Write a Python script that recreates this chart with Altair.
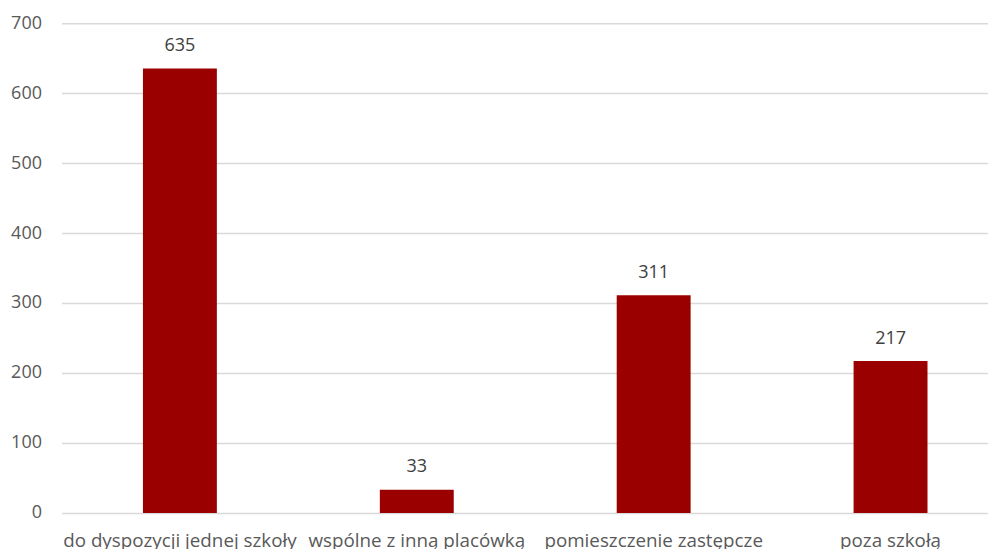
import altair as alt
import pandas as pd

categories = ["do dyspozycji jednej szkoły", "wspólne z inną placówką", "pomieszczenie zastępcze", "poza szkołą"]
values = [635, 33, 311, 217]
y_ticks = [0, 100, 200, 300, 400, 500, 600, 700]

df = pd.DataFrame({"kategoria": categories, "wartosc": values})

FONT = "Open Sans"

x_enc = alt.X(
    "kategoria:N",
    sort=categories,
    scale=alt.Scale(range=[0, 948], paddingInner=0.688, paddingOuter=0.344),
    axis=alt.Axis(
        title=None, labelAngle=0, ticks=False, tickSize=0, domain=False,
        labelFont=FONT, labelFontSize=18.8, labelColor="#595959", labelPadding=19,
        labelLimit=400,
    ),
)
y_enc = alt.Y(
    "wartosc:Q",
    scale=alt.Scale(domain=[0, 700], nice=False),
    axis=alt.Axis(
        title=None, values=y_ticks, ticks=False, domain=False,
        grid=True, gridColor="#d9d9d9", gridWidth=1.5,
        labelFont=FONT, labelFontSize=18, labelColor="#595959", labelPadding=20,
    ),
)

bars = alt.Chart(df).mark_bar(color="#9b0000").encode(x=x_enc, y=y_enc)
labels = alt.Chart(df).mark_text(
    font=FONT, fontSize=18, color="#404040", baseline="alphabetic", dy=-17.5
).encode(x=alt.X("kategoria:N", sort=categories), y="wartosc:Q", text="wartosc:Q")

chart = (bars + labels).properties(
    width=927, height=490,
    autosize=alt.AutoSizeParams(type="none"),
    padding={"left": 53.5, "top": 15, "right": 0, "bottom": 36},
).configure_view(stroke=None)

chart.save("out.html", embed_options={"renderer": "svg", "actions": False})
